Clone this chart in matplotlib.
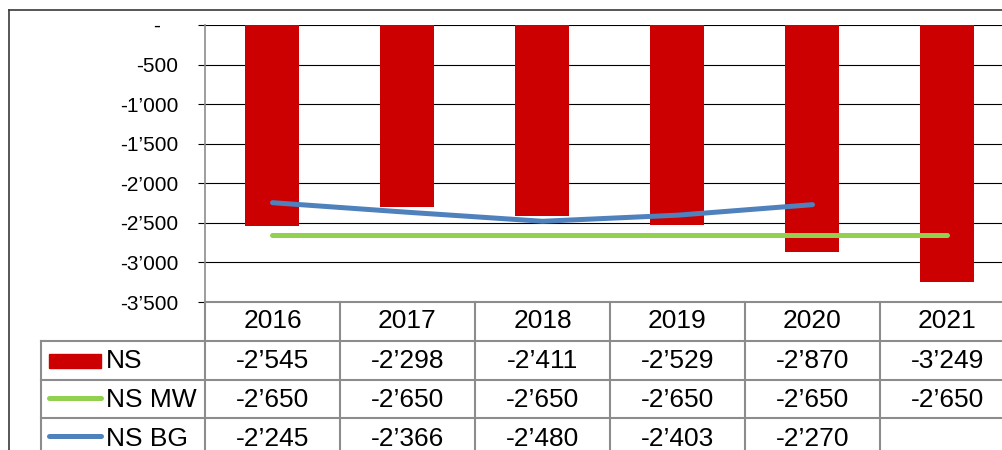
import matplotlib
matplotlib.use("Agg")
import matplotlib.pyplot as plt
import matplotlib.transforms as mtransforms
from matplotlib.patches import Rectangle
from matplotlib.lines import Line2D

plt.rcParams['font.family'] = ['Liberation Sans', 'DejaVu Sans']

# ---- data ----
years = ["2016", "2017", "2018", "2019", "2020", "2021"]
ns = [-2545, -2298, -2411, -2529, -2870, -3249]
ns_mw = [-2650, -2650, -2650, -2650, -2650, -2650]
ns_bg = [-2245, -2366, -2480, -2403, -2270, None]
series_names = ["NS", "NS MW", "NS BG"]
yticks = [0, -500, -1000, -1500, -2000, -2500, -3000, -3500]

RED = "#CC0000"
GREEN = "#92D050"
BLUE = "#4F81BD"
GRID = "#8C8C8C"

W, H = 1003, 450
TFS = 19  # table font size


def fmt(v):
    if v is None:
        return ""
    if v == 0:
        return "-   "
    s = f"{abs(int(v)):,}".replace(",", "\u2019")
    return ("-" if v < 0 else "") + s


fig = plt.figure(figsize=(W / 100, H / 100), dpi=100)

# main plot area (pixel geometry)
left_px, right_px, top_px, bot_px = 205, 1015, 25, 302
ax = fig.add_axes([left_px / W, (H - bot_px) / H, (right_px - left_px) / W, (bot_px - top_px) / H])
x = list(range(len(years)))
ax.set_xlim(-0.5, len(years) - 0.5)
ax.set_ylim(-3500, 0)
ax.set_yticks(yticks)
ax.set_yticklabels([fmt(v) for v in yticks])
ax.set_xticks([])
ax.yaxis.grid(True, color="black", lw=0.8, zorder=0)
ax.set_axisbelow(True)
for s in ["top", "right", "bottom"]:
    ax.spines[s].set_visible(False)
ax.spines["left"].set_color(GRID)
ax.spines["left"].set_linewidth(1.2)
ax.tick_params(axis="y", direction="out", length=5, width=0.8, color="black", pad=14, labelsize=15)

ax.bar(x, ns, width=0.4, color=RED, zorder=2)
ax.plot(x, ns_mw, color=GREEN, lw=3.6, solid_capstyle="round", zorder=3)
bg_x = [i for i, v in zip(x, ns_bg) if v is not None]
bg_y = [v for v in ns_bg if v is not None]
ax.plot(bg_x, bg_y, color=BLUE, lw=3.6, solid_capstyle="round", zorder=4)

# overlay axes in pixel coordinates for table and frame
tax = fig.add_axes([0, 0, 1, 1], zorder=5)
tax.set_xlim(0, W)
tax.set_ylim(H, 0)
tax.axis("off")
tax.patch.set_alpha(0)
bt = mtransforms.blended_transform_factory(ax.transData, tax.transData)

# outer chart border
tax.add_line(Line2D([9, 9], [10, H + 5], color="#3a3a3a", lw=1.2))
tax.add_line(Line2D([9, W + 5], [10, 10], color="#3a3a3a", lw=1.2))

# table grid
row_edges = [302, 341, 380, 418, 457]
leg_left = 41
n = len(years)
tax.add_line(Line2D([-0.5, n - 0.5], [row_edges[0]] * 2, color=GRID, lw=1.5, transform=bt))
for ry in row_edges[1:4]:
    tax.add_line(Line2D([leg_left, W + 20], [ry, ry], color=GRID, lw=1.5))
for i in range(n + 1):
    tax.add_line(Line2D([i - 0.5, i - 0.5], [row_edges[0], H + 10], color=GRID, lw=1.5, transform=bt))
tax.add_line(Line2D([leg_left, leg_left], [row_edges[1], H + 10], color=GRID, lw=1.5))

# header
hdr_y = (row_edges[0] + row_edges[1]) / 2
for i, yr in enumerate(years):
    tax.text(i, hdr_y, yr, transform=bt, ha="center", va="center", fontsize=TFS)

rows = [ns, ns_mw, ns_bg]
for r, vals in enumerate(rows):
    cy = (row_edges[r + 1] + row_edges[r + 2]) / 2 + 1
    for i, v in enumerate(vals):
        tax.text(i, cy, fmt(v), transform=bt, ha="center", va="center", fontsize=TFS)
    tax.text(106, cy, series_names[r], ha="left", va="center", fontsize=TFS)

# legend keys
cy0 = (row_edges[1] + row_edges[2]) / 2
tax.add_patch(Rectangle((49, cy0 - 7), 52, 14, color=RED))
cy1 = (row_edges[2] + row_edges[3]) / 2 + 1
tax.add_line(Line2D([49, 101], [cy1 - 2, cy1 - 2], color=GREEN, lw=3.6, solid_capstyle="round"))
cy2 = (row_edges[3] + row_edges[4]) / 2
tax.add_line(Line2D([49, 101], [cy2 - 2, cy2 - 2], color=BLUE, lw=3.6, solid_capstyle="round"))

fig.savefig("out.png", dpi=100)
